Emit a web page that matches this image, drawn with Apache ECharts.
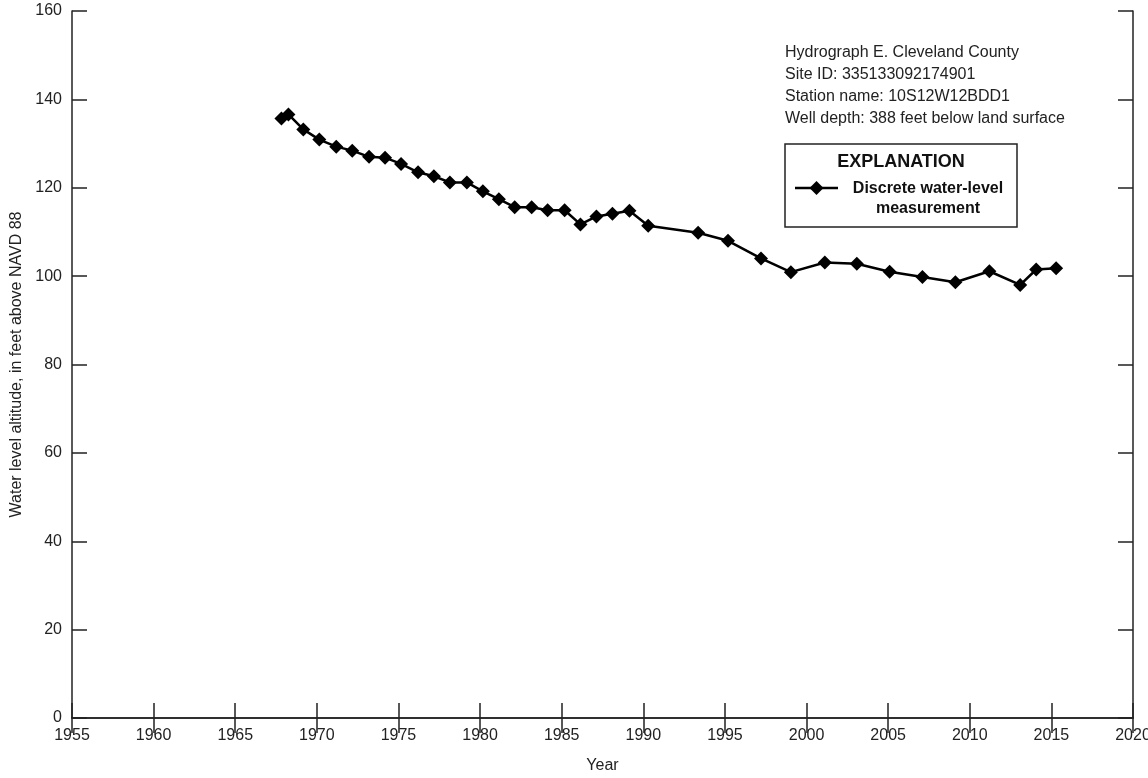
<!DOCTYPE html>
<html>
<head>
<meta charset="utf-8">
<script src="https://cdn.jsdelivr.net/npm/echarts@6/dist/echarts.min.js"></script>
<style>
html,body{margin:0;padding:0;background:#fff;}
#chart{width:1148px;height:778px;}
</style>
</head>
<body>
<div id="chart"></div>
<script>
// Measurement dates (decimal years) and water-level altitudes (feet above NAVD 88)
const years = [1967.83, 1968.26, 1969.17, 1970.15, 1971.19, 1972.17, 1973.20, 1974.18, 1975.16, 1976.20,
  1977.17, 1978.15, 1979.19, 1980.17, 1981.15, 1982.12, 1983.16, 1984.14, 1985.18, 1986.15,
  1987.13, 1988.11, 1989.15, 1990.30, 1993.36, 1995.19, 1997.21, 1999.04, 2001.12, 2003.08,
  2005.09, 2007.10, 2009.12, 2011.20, 2013.09, 2014.07, 2015.29];
const levels = [135.7, 136.6, 133.2, 130.9, 129.3, 128.4, 127.0, 126.8, 125.4, 123.5,
  122.6, 121.2, 121.2, 119.2, 117.4, 115.6, 115.6, 114.9, 114.9, 111.7,
  113.5, 114.1, 114.8, 111.4, 109.8, 108.0, 104.0, 100.9, 103.1, 102.8,
  101.0, 99.8, 98.6, 101.1, 98.0, 101.5, 101.8];
const xTicks = {min: 1955, max: 2020, interval: 5};
const yTicks = {min: 0, max: 160, interval: 20};
const infoLines = ['Hydrograph E. Cleveland County', 'Site ID: 335133092174901',
  'Station name: 10S12W12BDD1', 'Well depth: 388 feet below land surface'];
const legendTitle = 'EXPLANATION';
const seriesName = 'Discrete water-level\nmeasurement';

const FONT = '"Liberation Sans Narrow", "Arial Narrow", "Liberation Sans", sans-serif';
const AX = '#222';

const chart = echarts.init(document.getElementById('chart'), null, {renderer: 'canvas'});
const axisCommon = {
  axisLine: {show: true, lineStyle: {color: AX, width: 1.5}},
  axisTick: {show: true, inside: true, length: 15, lineStyle: {color: AX, width: 1.5}},
  splitLine: {show: false}
};
const plain = v => String(v);
const option = {
  backgroundColor: '#fff',
  animation: false,
  grid: {left: 72, right: 15, top: 11, bottom: 60, containLabel: false, outerBoundsMode: 'none'},
  xAxis: [
    Object.assign({type: 'value', position: 'bottom', min: xTicks.min, max: xTicks.max, interval: xTicks.interval,
      name: 'Year', nameLocation: 'middle', nameGap: 40,
      nameTextStyle: {fontFamily: FONT, fontSize: 16, color: '#222'},
      axisLabel: {fontFamily: FONT, fontSize: 16, color: '#222', margin: 10, formatter: plain}}, axisCommon),
    Object.assign({type: 'value', position: 'top', min: xTicks.min, max: xTicks.max, interval: xTicks.interval,
      axisLabel: {show: false}}, axisCommon)
  ],
  yAxis: [
    Object.assign({type: 'value', position: 'left', min: yTicks.min, max: yTicks.max, interval: yTicks.interval,
      name: 'Water level altitude, in feet above NAVD 88', nameLocation: 'middle', nameGap: 47, nameRotate: 90,
      nameTextStyle: {fontFamily: FONT, fontSize: 16, color: '#222'},
      axisLabel: {fontFamily: FONT, fontSize: 16, color: '#222', margin: 10, formatter: plain}}, axisCommon),
    Object.assign({type: 'value', position: 'right', min: yTicks.min, max: yTicks.max, interval: yTicks.interval,
      axisLabel: {show: false}}, axisCommon)
  ],
  series: [{
    name: seriesName,
    type: 'line',
    data: years.map((y, i) => [y, levels[i]]),
    symbol: 'diamond',
    symbolSize: 14,
    itemStyle: {color: '#000'},
    lineStyle: {color: '#000', width: 2.5},
    z: 5
  }],
  graphic: [
    {type: 'text', left: 785, top: 41,
      style: {text: infoLines.join('\n'), font: '16px ' + FONT, fill: '#222', lineHeight: 22.3}},
    {type: 'rect', shape: {x: 785, y: 144, width: 232, height: 83},
      style: {fill: '#fff', stroke: '#222', lineWidth: 1.5}},
    {type: 'text', x: 901, y: 162,
      style: {text: legendTitle, font: 'bold 18px ' + FONT, fill: '#111', align: 'center', verticalAlign: 'middle'}},
    {type: 'line', shape: {x1: 795, y1: 188, x2: 838, y2: 188}, style: {stroke: '#000', lineWidth: 2.5}},
    {type: 'polygon', shape: {points: [[816.5, 181], [823.5, 188], [816.5, 195], [809.5, 188]]}, style: {fill: '#000'}},
    {type: 'text', x: 928, y: 179,
      style: {text: seriesName, font: 'bold 16px ' + FONT, fill: '#111', align: 'center', verticalAlign: 'top', lineHeight: 20}}
  ]
};
chart.setOption(option);
</script>
</body>
</html>
